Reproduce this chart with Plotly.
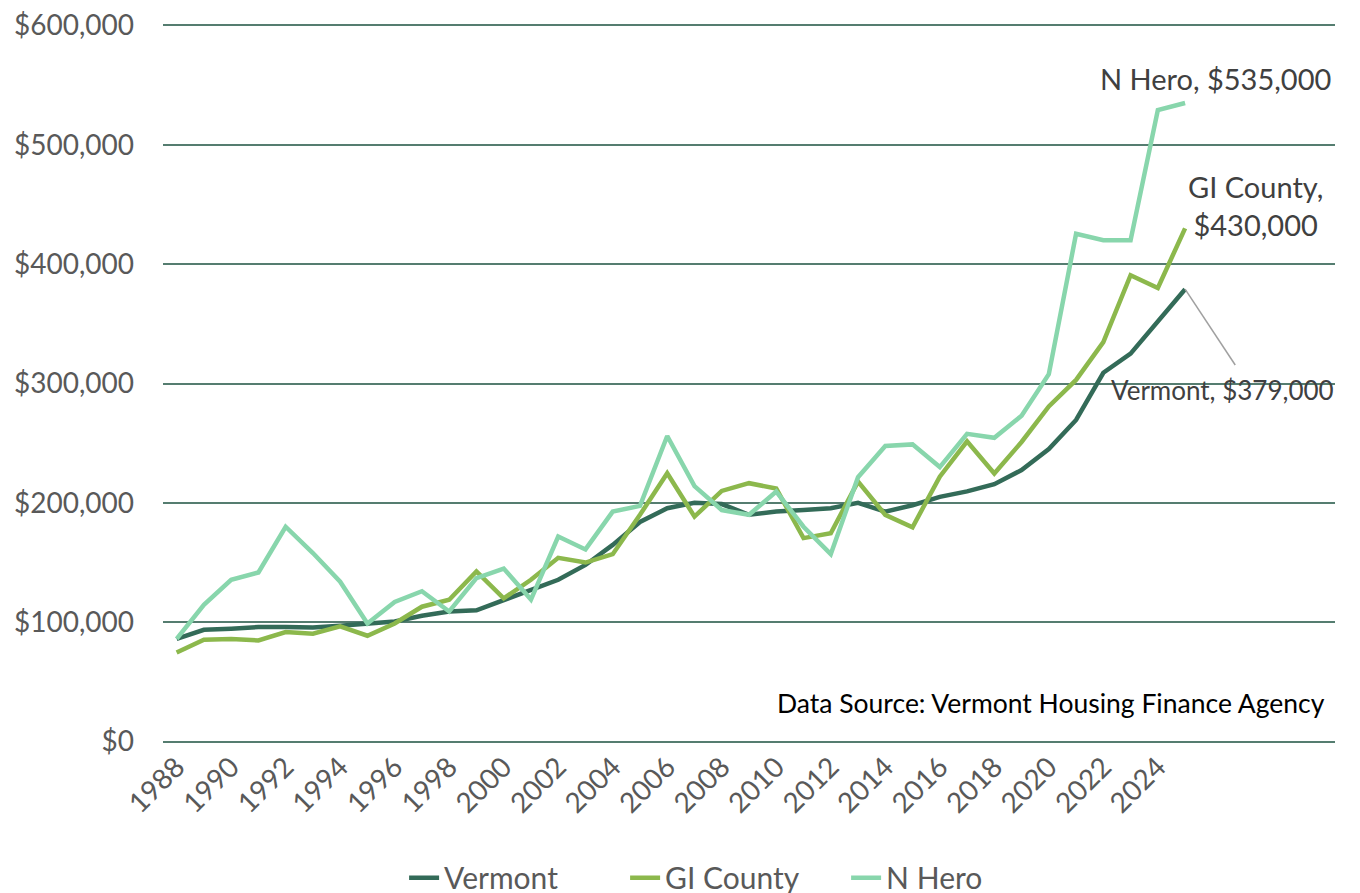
"""Median home price line chart: Vermont vs Grand Isle County vs North Hero."""

import plotly.graph_objects as go

YEARS = list(range(1988, 2026))

VERMONT = [
    86000, 93700, 94600, 96000, 96000, 95500, 97000, 99000, 100700, 105400,
    109000, 110000, 118800, 127800, 135600, 148000, 164800, 184000, 195500, 200000,
    199000, 190000, 192700, 194000, 195500, 200000, 192700, 198000, 205000, 209600,
    215600, 227500, 245000, 269500, 309000, 325000, 352700, 379000,
]

GI_COUNTY = [
    74700, 85400, 86000, 84800, 91800, 90400, 96500, 88700, 99000, 113000,
    118800, 142500, 120000, 135600, 154000, 150000, 157000, 190000, 224800, 188500,
    210000, 216500, 212000, 170500, 174600, 217800, 190000, 179600, 222000, 251500,
    224600, 251000, 280800, 303000, 334700, 390700, 380000, 430000,
]

N_HERO = [
    86000, 114600, 135600, 141700, 180000, 158000, 134000, 99000, 117000, 126000,
    109000, 137000, 145000, 119000, 171800, 161000, 192700, 197500, 256000, 214000,
    194000, 190000, 209500, 180000, 157000, 221500, 247700, 249000, 230000, 257800,
    254500, 273000, 307800, 425400, 420000, 420000, 529000, 535000,
]

SERIES = [
    ("Vermont", VERMONT, "#336B58"),
    ("GI County", GI_COUNTY, "#8CB84C"),
    ("N Hero", N_HERO, "#88D6AC"),
]

Y_TICKS = [0, 100000, 200000, 300000, 400000, 500000, 600000]
Y_LABELS = ["$0", "$100,000", "$200,000", "$300,000", "$400,000", "$500,000", "$600,000"]
X_TICKS = list(range(1988, 2025, 2))

FONT = "Lato, 'Open Sans', sans-serif"
TEXT = "#595959"
LABEL = "#404040"
GRID = "#557D70"

fig = go.Figure()
for name, values, color in SERIES:
    fig.add_trace(go.Scatter(
        x=YEARS, y=values, name=name, mode="lines",
        line=dict(color=color, width=4.5),
    ))

fig.update_layout(
    width=1360, height=893,
    margin=dict(l=155, r=33, t=15, b=157, autoexpand=False),
    plot_bgcolor="white", paper_bgcolor="white",
    font=dict(family=FONT, color=TEXT, size=28),
    showlegend=True,
    legend=dict(
        orientation="h", xref="container", x=0.535, xanchor="center",
        yref="container", y=0.026, yanchor="middle",
        font=dict(size=30, color=TEXT), traceorder="normal",
        entrywidth=176, entrywidthmode="pixels",
    ),
    xaxis=dict(
        range=[1987.5, 2030.5], tickmode="array", tickvals=X_TICKS,
        ticktext=[str(y) for y in X_TICKS], tickangle=-45, automargin=False,
        showgrid=False, zeroline=False, showline=False, ticks="",
        tickfont=dict(size=28, color=TEXT),
    ),
    yaxis=dict(
        # small padding so the $0 and $600,000 gridlines are still drawn
        range=[-2000, 602000], tickmode="array", tickvals=Y_TICKS, ticktext=Y_LABELS,
        showgrid=True, gridcolor=GRID, gridwidth=1.6, zeroline=False, automargin=False,
        showline=False, ticks="", ticklabelstandoff=28, ticklabeloverflow="allow",
        tickfont=dict(size=28, color=TEXT),
    ),
)

# end-of-line labels
fig.add_annotation(
    x=0.998, y=555600, xref="paper", yref="y", xanchor="right", yanchor="middle",
    text="N Hero, $535,000", showarrow=False, font=dict(size=29, color=LABEL),
)
fig.add_annotation(
    x=2027.57, y=449400, xref="x", yref="y", xanchor="center", yanchor="middle",
    text="GI County,<br>$430,000", showarrow=False, font=dict(size=29, color=LABEL),
)
fig.add_annotation(
    x=2026.36, y=294600, xref="x", yref="y", xanchor="center", yanchor="middle",
    text="Vermont, $379,000", showarrow=False, font=dict(size=26, color=LABEL),
)
fig.add_shape(
    type="line", xref="x", yref="y", x0=2025, y0=379000, x1=2026.84, y1=315500,
    line=dict(color="#A0A0A0", width=1.5),
)
fig.add_annotation(
    x=0.993, y=0.057, xref="paper", yref="paper", xanchor="right", yanchor="middle",
    text="Data Source: Vermont Housing Finance Agency", showarrow=False,
    font=dict(size=26.5, color="#000000"),
)

fig.write_html("out.html")
